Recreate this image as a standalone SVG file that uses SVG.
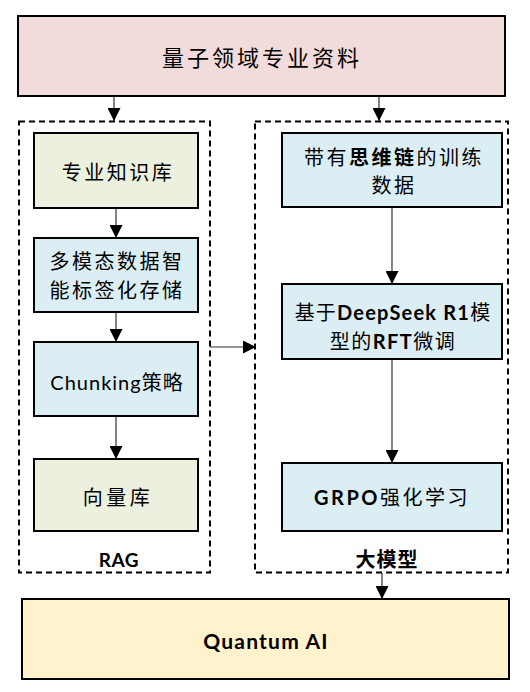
<svg xmlns="http://www.w3.org/2000/svg" width="530" height="692" viewBox="0 0 530 692">
<defs>
<marker id="ah" markerUnits="userSpaceOnUse" markerWidth="13" markerHeight="13" viewBox="0 0 13 13" refX="13" refY="6.5" orient="auto">
<path d="M0,0 L13,6.5 L0,13 Z" fill="#000"/>
</marker>
<style>
.box{stroke:#000;stroke-width:2}
.pink{fill:#F2DCDB}.green{fill:#EBF1DE}.blue{fill:#DBEEF3}.yellow{fill:#FFF2CC}
.dash{fill:none;stroke:#000;stroke-width:2;stroke-dasharray:6,4}
.t{font-family:Lato,"Noto Sans CJK SC",sans-serif;font-size:20px;fill:#000;text-anchor:middle;dominant-baseline:central;letter-spacing:2.5px}
.b{font-weight:bold}
.c{fill:none;stroke:#333;stroke-width:1.2;marker-end:url(#ah)}
</style>
</defs>
<g id="connectors">
<line class="c" x1="114" y1="96" x2="114" y2="121"/>
<line class="c" x1="379" y1="96" x2="379" y2="121"/>
<line class="c" x1="116" y1="208" x2="116" y2="238"/>
<line class="c" x1="116" y1="312" x2="116" y2="342"/>
<line class="c" x1="116" y1="416" x2="116" y2="459"/>
<line class="c" x1="210" y1="347" x2="256" y2="347"/>
<line class="c" x1="392" y1="207" x2="392" y2="284"/>
<line class="c" x1="392" y1="359" x2="392" y2="463"/>
<line class="c" x1="382" y1="573" x2="382" y2="599"/>
</g>
<g id="source">
<rect class="box pink" x="18" y="16" width="487" height="80"/>
<text class="t" x="262" y="57" style="font-size:22px;letter-spacing:3px">量子领域专业资料</text>
</g>
<g id="rag">
<rect class="dash" x="19" y="121.5" width="191" height="451"/>
<text class="t b" x="119" y="559" style="font-size:19px;letter-spacing:0.5px">RAG</text>
</g>
<g id="llm">
<rect class="dash" x="255" y="121.5" width="253" height="451"/>
<text class="t b" x="387" y="559" style="letter-spacing:1px">大模型</text>
</g>
<g id="kb">
<rect class="box green" x="34" y="133" width="164" height="75"/>
<text class="t" x="118" y="172">专业知识库</text>
</g>
<g id="tagging">
<rect class="box blue" x="34" y="238" width="164" height="74"/>
<text class="t" x="117" y="261">多模态数据智</text>
<text class="t" x="117" y="290">能标签化存储</text>
</g>
<g id="chunking">
<rect class="box blue" x="34" y="342" width="164" height="74"/>
<text class="t" x="117" y="382" style="letter-spacing:1px">Chunking策略</text>
</g>
<g id="vectordb">
<rect class="box green" x="34" y="459" width="164" height="72"/>
<text class="t" x="118" y="497" style="letter-spacing:3.5px">向量库</text>
</g>
<g id="cot">
<rect class="box blue" x="282" y="133" width="220" height="74"/>
<text class="t" x="394" y="157">带有<tspan class="b">思维链</tspan>的训练</text>
<text class="t" x="394" y="185">数据</text>
</g>
<g id="rft">
<rect class="box blue" x="282" y="284" width="220" height="75"/>
<text class="t" x="393" y="312" style="letter-spacing:1.2px">基于<tspan class="b">DeepSeek R1</tspan>模</text>
<text class="t" x="393" y="341" style="letter-spacing:1.5px">型的<tspan class="b">RFT</tspan>微调</text>
</g>
<g id="grpo">
<rect class="box blue" x="282" y="463" width="220" height="68"/>
<text class="t" x="392" y="497"><tspan class="b">GRPO</tspan>强化学习</text>
</g>
<g id="quantum">
<rect class="box yellow" x="22" y="599" width="487" height="80"/>
<text class="t b" x="266" y="640" style="font-size:21px;letter-spacing:1.2px">Quantum AI</text>
</g>
</svg>
